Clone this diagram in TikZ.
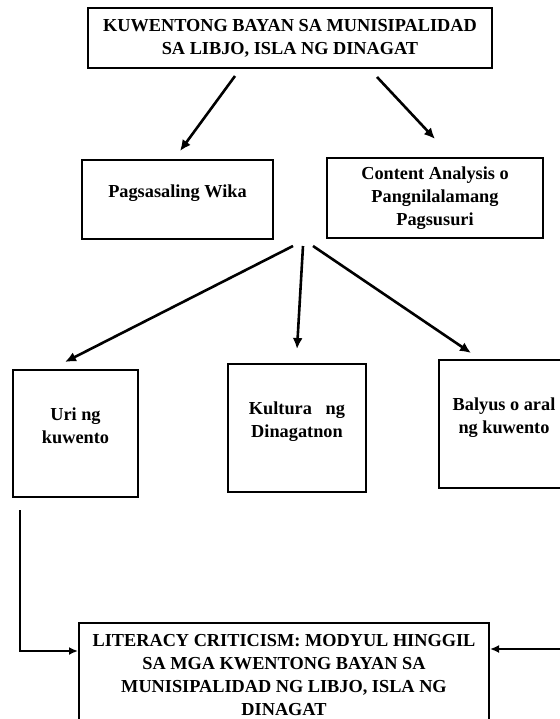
\documentclass[tikz,border=0pt]{standalone}
\usepackage{fontspec}
\setmainfont{Liberation Serif}
\usepackage{tikz}
\usetikzlibrary{arrows.meta,calc}

\tikzset{
  box/.style={draw, rectangle, line width=2pt, align=center, inner sep=0pt,
    font=\bfseries\fontsize{18.3}{23}\selectfont},
  uptext/.style={text depth=16pt},
  arr/.style={-{Latex[length=11pt,width=10pt]}, line width=2.6pt},
  link/.style={-{Latex[length=9pt,width=8pt]}, line width=2pt}
}

\begin{document}
\begin{tikzpicture}[x=1pt,y=-1pt]
\useasboundingbox (0,0) rectangle (559,719);
\node[box, minimum width=404pt, minimum height=60pt] (top) at (290,38)
  {KUWENTONG BAYAN SA MUNISIPALIDAD\\SA LIBJO, ISLA NG DINAGAT};
\node[box, uptext, minimum width=191pt, minimum height=79pt] (wika) at (177.5,199.5)
  {Pagsasaling Wika};
\node[box, minimum width=216pt, minimum height=80pt] (content) at (435,198)
  {Content Analysis o\\Pangnilalamang\\Pagsusuri};
\node[box, uptext, minimum width=125pt, minimum height=127pt] (uri) at (75.5,433.5)
  {Uri ng\\kuwento};
\node[box, uptext, minimum width=138pt, minimum height=128pt] (kultura) at (297,428)
  {Kultura\hspace{0.75em}ng\\Dinagatnon};
\node[box, uptext, minimum width=130pt, minimum height=128pt] (balyus) at (504,424)
  {Balyus o aral\\ng kuwento};
\node[box, anchor=north, minimum width=410pt, inner ysep=11pt] (lit) at (284,622)
  {LITERACY CRITICISM: MODYUL HINGGIL\\SA MGA KWENTONG BAYAN SA\\MUNISIPALIDAD NG LIBJO, ISLA NG\\DINAGAT};

% arrows from the title
\draw[arr] ([xshift=-55pt,yshift=-7pt]top.south) -- ([xshift=2.5pt,yshift=8pt]wika.north);
\draw[arr] ([xshift=87pt,yshift=-8pt]top.south) -- ([yshift=18pt]content.north);

% fan to the three boxes
\coordinate (hub) at (303,246);
\draw[arr] ([xshift=-10pt]hub) -- ([xshift=-10.5pt,yshift=7pt]uri.north);
\draw[arr] (hub) -- ([yshift=14pt]kultura.north);
\draw[arr] ([xshift=10pt]hub) -- ([xshift=-33pt,yshift=6pt]balyus.north);

% links into the module box
\coordinate (lstart) at (20,510);
\coordinate (rstart) at (562,649);
\draw[link] (lstart) |- ([yshift=-29pt]lit.north west);
\draw[link] (rstart) -- (rstart -| lit.east);
\end{tikzpicture}
\end{document}
